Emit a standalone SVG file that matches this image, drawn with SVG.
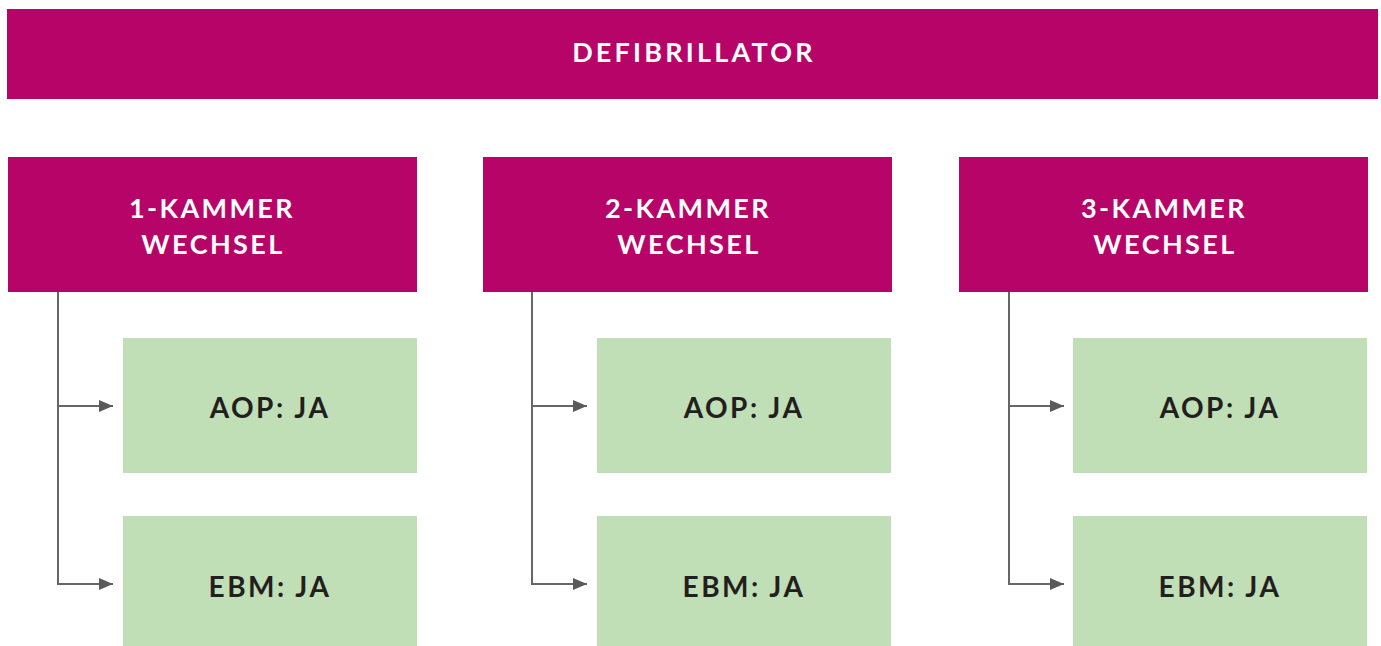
<svg xmlns="http://www.w3.org/2000/svg" width="1381" height="646" viewBox="0 0 1381 646">
<defs>
<style>
.mag{fill:#b70468}
.grn{fill:#c1dfb7}
.wt{fill:#ffffff;font-family:Lato,"Liberation Sans",sans-serif;font-weight:700;font-size:27px;letter-spacing:3.2px;text-anchor:middle}
.wt2{letter-spacing:2.4px}
.dt{fill:#231f20;font-family:Lato,"Liberation Sans",sans-serif;font-weight:700;font-size:28px;letter-spacing:2.5px;text-anchor:middle}
.con{fill:none;stroke:#666666;stroke-width:2}
</style>
<marker id="arr" markerWidth="14" markerHeight="12" refX="14" refY="6" orient="auto" markerUnits="userSpaceOnUse">
<path d="M0,0 L14,6 L0,12 Z" fill="#5a5a5a"/>
</marker>
</defs>
<rect width="1381" height="646" fill="#ffffff"/>
<g id="defibrillator">
<rect class="mag" x="7" y="9" width="1371" height="90"/>
<text class="wt" x="694" y="62">DEFIBRILLATOR</text>
</g>
<g id="kammer1">
<rect class="mag" x="8" y="157" width="409" height="135"/>
<text class="wt wt2" x="212" y="218">1-KAMMER</text>
<text class="wt wt2" x="213" y="254">WECHSEL</text>
</g>
<g id="kammer2">
<rect class="mag" x="483" y="157" width="409" height="135"/>
<text class="wt wt2" x="688" y="218">2-KAMMER</text>
<text class="wt wt2" x="689" y="254">WECHSEL</text>
</g>
<g id="kammer3">
<rect class="mag" x="959" y="157" width="409" height="135"/>
<text class="wt wt2" x="1164" y="218">3-KAMMER</text>
<text class="wt wt2" x="1165" y="254">WECHSEL</text>
</g>
<g id="aop1">
<rect class="grn" x="123" y="338" width="294" height="135"/>
<text class="dt" x="270" y="418">AOP: JA</text>
</g>
<g id="ebm1">
<rect class="grn" x="123" y="516" width="294" height="130"/>
<text class="dt" x="270" y="597">EBM: JA</text>
</g>
<g id="aop2">
<rect class="grn" x="597" y="338" width="294" height="135"/>
<text class="dt" x="744" y="418">AOP: JA</text>
</g>
<g id="ebm2">
<rect class="grn" x="597" y="516" width="294" height="130"/>
<text class="dt" x="744" y="597">EBM: JA</text>
</g>
<g id="aop3">
<rect class="grn" x="1073" y="338" width="294" height="135"/>
<text class="dt" x="1220" y="418">AOP: JA</text>
</g>
<g id="ebm3">
<rect class="grn" x="1073" y="516" width="294" height="130"/>
<text class="dt" x="1220" y="597">EBM: JA</text>
</g>
<g id="connectors">
<path class="con" d="M58,292 V584 H113" marker-end="url(#arr)"/>
<path class="con" d="M58,406 H113" marker-end="url(#arr)"/>
<path class="con" d="M532,292 V584 H587" marker-end="url(#arr)"/>
<path class="con" d="M532,406 H587" marker-end="url(#arr)"/>
<path class="con" d="M1009,292 V584 H1064" marker-end="url(#arr)"/>
<path class="con" d="M1009,406 H1064" marker-end="url(#arr)"/>
</g>
</svg>
